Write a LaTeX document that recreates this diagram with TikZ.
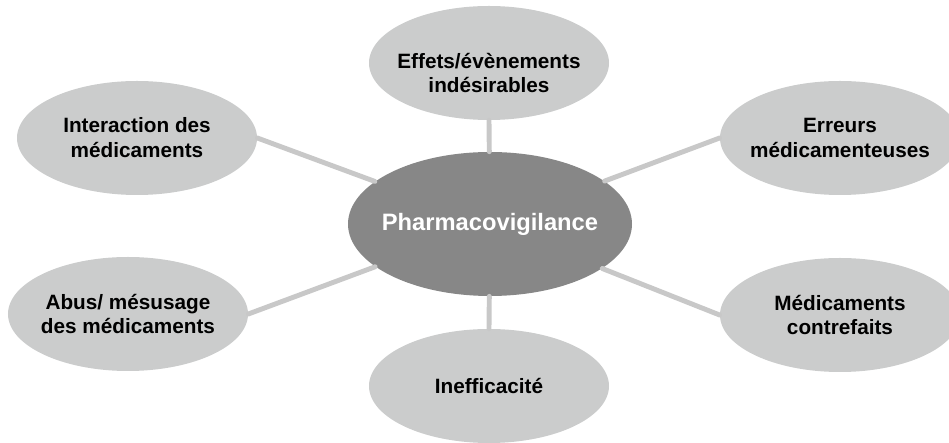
\documentclass[tikz,border=0pt]{standalone}
\usepackage{fontspec}
\setmainfont{Liberation Sans}
\usetikzlibrary{shapes.geometric}
\definecolor{bubblegray}{HTML}{CBCCCC}
\definecolor{coregray}{HTML}{878787}
\definecolor{linkgray}{HTML}{C8C8C8}
\tikzset{
  bubble/.style={ellipse,fill=bubblegray,minimum width=4.8cm,minimum height=2.28cm,inner sep=0pt},
  core/.style={ellipse,fill=coregray,minimum width=5.68cm,minimum height=2.88cm,inner sep=0pt},
  lbl/.style={align=center,inner sep=0pt,font=\bfseries\fontsize{11.8}{14.2}\selectfont},
  link/.style={draw=linkgray,line width=2.8pt}
}
\begin{document}
\begin{tikzpicture}[line cap=round,line join=round]
\useasboundingbox (0,0) rectangle (18.98,8.86);
\node[core,label={[lbl,text=white,font=\bfseries\fontsize{13.5}{16}\selectfont]center:Pharmacovigilance}] (pv) at (9.8,4.38) {};
\node[bubble,label={[lbl,yshift=-0.2cm]center:Effets/évènements\\indésirables}] (eff) at (9.78,7.6) {};
\node[bubble,label={[lbl]center:Interaction des\\médicaments}] (inter) at (2.74,6.1) {};
\node[bubble,label={[lbl]center:Erreurs\\médicamenteuses}] (err) at (16.8,6.1) {};
\node[bubble,label={[lbl]center:Abus/ mésusage\\des médicaments}] (abus) at (2.56,2.58) {};
\node[bubble,label={[lbl]center:Médicaments\\contrefaits}] (contre) at (16.8,2.56) {};
\node[bubble,label={[lbl]center:Inefficacité}] (ineff) at (9.78,1.14) {};
% spokes
\foreach \n/\a in {eff/south,ineff/north,inter/east,abus/east,err/west,contre/west}
\draw[link] (\n.\a) -- (pv);
\end{tikzpicture}
\end{document}
